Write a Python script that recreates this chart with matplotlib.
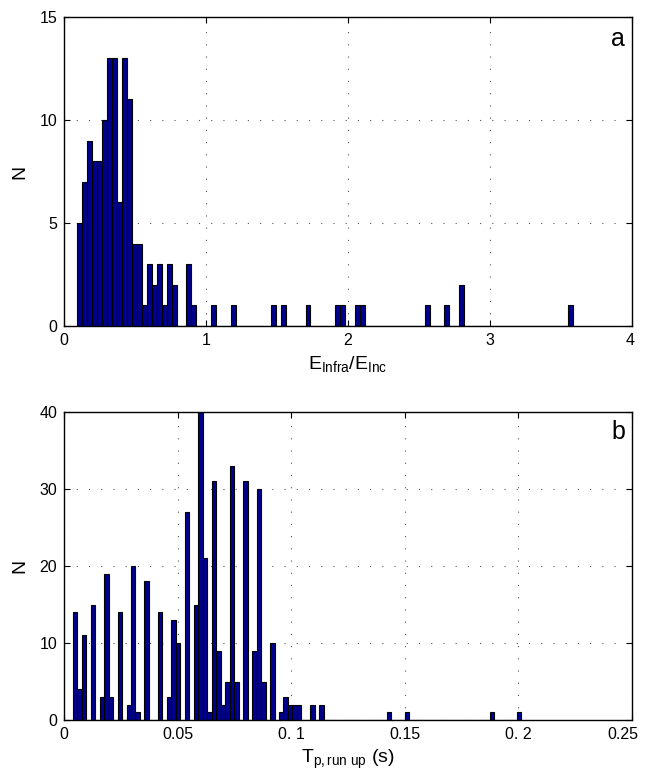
import numpy as np
import matplotlib
matplotlib.use("Agg")
import matplotlib.pyplot as plt
from matplotlib.transforms import ScaledTranslation

plt.rcParams['font.family'] = ['Liberation Sans', 'DejaVu Sans']
plt.rcParams['mathtext.fontset'] = 'custom'
plt.rcParams['mathtext.rm'] = 'Liberation Sans'
plt.rcParams['mathtext.it'] = 'Liberation Sans'

# panel a: histogram of E_infra/E_inc, 100 bins between min and max
ratio_lo, ratio_hi = 0.094, 3.588
ratio_counts = [0] * 100
ratio_counts[:25] = [5, 7, 9, 8, 8, 10, 13, 13, 6, 13, 11, 4, 4, 1, 3, 2, 3, 1, 3, 2,
                     0, 0, 3, 1, 0]
ratio_extra = {27: 1, 31: 1, 39: 1, 41: 1, 46: 1, 52: 1, 53: 1, 56: 1, 57: 1,
               70: 1, 74: 1, 77: 2, 99: 1}

# panel b: histogram of run-up peak period, 100 bins
tp_lo, tp_hi = 0.00381, 0.2013
tp_counts = [0] * 100
tp_counts[:56] = [14, 4, 11, 0, 15, 0, 3, 19, 3, 0, 14, 0, 2, 20, 1, 0, 18, 0, 0, 14,
                  0, 3, 13, 10, 0, 27, 0, 15, 40, 21, 1, 31, 9, 2, 5, 33, 5, 0, 31, 0,
                  9, 30, 5, 0, 10, 0, 1, 3, 2, 2, 2, 0, 0, 2, 0, 2]
tp_extra = {70: 1, 74: 1, 93: 1, 99: 1}

for k, v in ratio_extra.items():
    ratio_counts[k] = v
for k, v in tp_extra.items():
    tp_counts[k] = v

bar_color = (0, 0, 0.5625)


def draw_hist(ax, lo, hi, counts):
    edges = np.linspace(lo, hi, len(counts) + 1)
    centers = (edges[:-1] + edges[1:]) / 2
    ax.bar(centers, counts, width=edges[1] - edges[0], color=bar_color,
           edgecolor='black', linewidth=0.8, zorder=2)
    ax.grid(True, linestyle=(0, (1, 10)), color='#555555', linewidth=0.8)
    ax.set_axisbelow(True)
    ax.tick_params(direction='in', top=True, right=True, labelsize=11.5, length=4, pad=5)
    for s in ax.spines.values():
        s.set_linewidth(1.0)


fig = plt.figure(figsize=(6.46, 7.79), dpi=100)

ax1 = fig.add_axes([0.0991, 0.5815, 0.879, 0.3967])
draw_hist(ax1, ratio_lo, ratio_hi, ratio_counts)
ax1.set_xlim(0, 4)
ax1.set_ylim(0, 15)
ax1.set_xticks([0, 1, 2, 3, 4])
ax1.set_yticks([0, 5, 10, 15])
ax1.set_ylabel('N', fontsize=14, labelpad=8)
ax1.set_xlabel(r'$\mathregular{E_{Infra}/E_{Inc}}$', fontsize=14, labelpad=4)
ax1.text(0.988, 0.968, 'a', transform=ax1.transAxes, ha='right', va='top', fontsize=18)

ax2 = fig.add_axes([0.0991, 0.0757, 0.879, 0.3954])
draw_hist(ax2, tp_lo, tp_hi, tp_counts)
ax2.set_xlim(0, 0.25)
ax2.set_ylim(0, 40)
ax2.set_xticks([0, 0.05, 0.1, 0.15, 0.2, 0.25])
ax2.set_xticklabels(['0', '0.05', '0. 1', '0.15', '0. 2', '0.25'])
ax2.set_yticks([0, 10, 20, 30, 40])
ax2.set_ylabel('N', fontsize=14, labelpad=8)
ax2.set_xlabel(r'$\mathregular{T_{p,run\ up}}$ (s)', fontsize=14, labelpad=4)
ax2.text(0.988, 0.975, 'b', transform=ax2.transAxes, ha='right', va='top', fontsize=18)

# last tick label sits against the figure edge, nudge it left like the original
last = ax2.get_xticklabels()[-1]
last.set_transform(last.get_transform() + ScaledTranslation(-0.09, 0, fig.dpi_scale_trans))
last1 = ax1.get_xticklabels()[-1]
last1.set_transform(last1.get_transform() + ScaledTranslation(-0.02, 0, fig.dpi_scale_trans))

plt.savefig('out.png', dpi=100)
